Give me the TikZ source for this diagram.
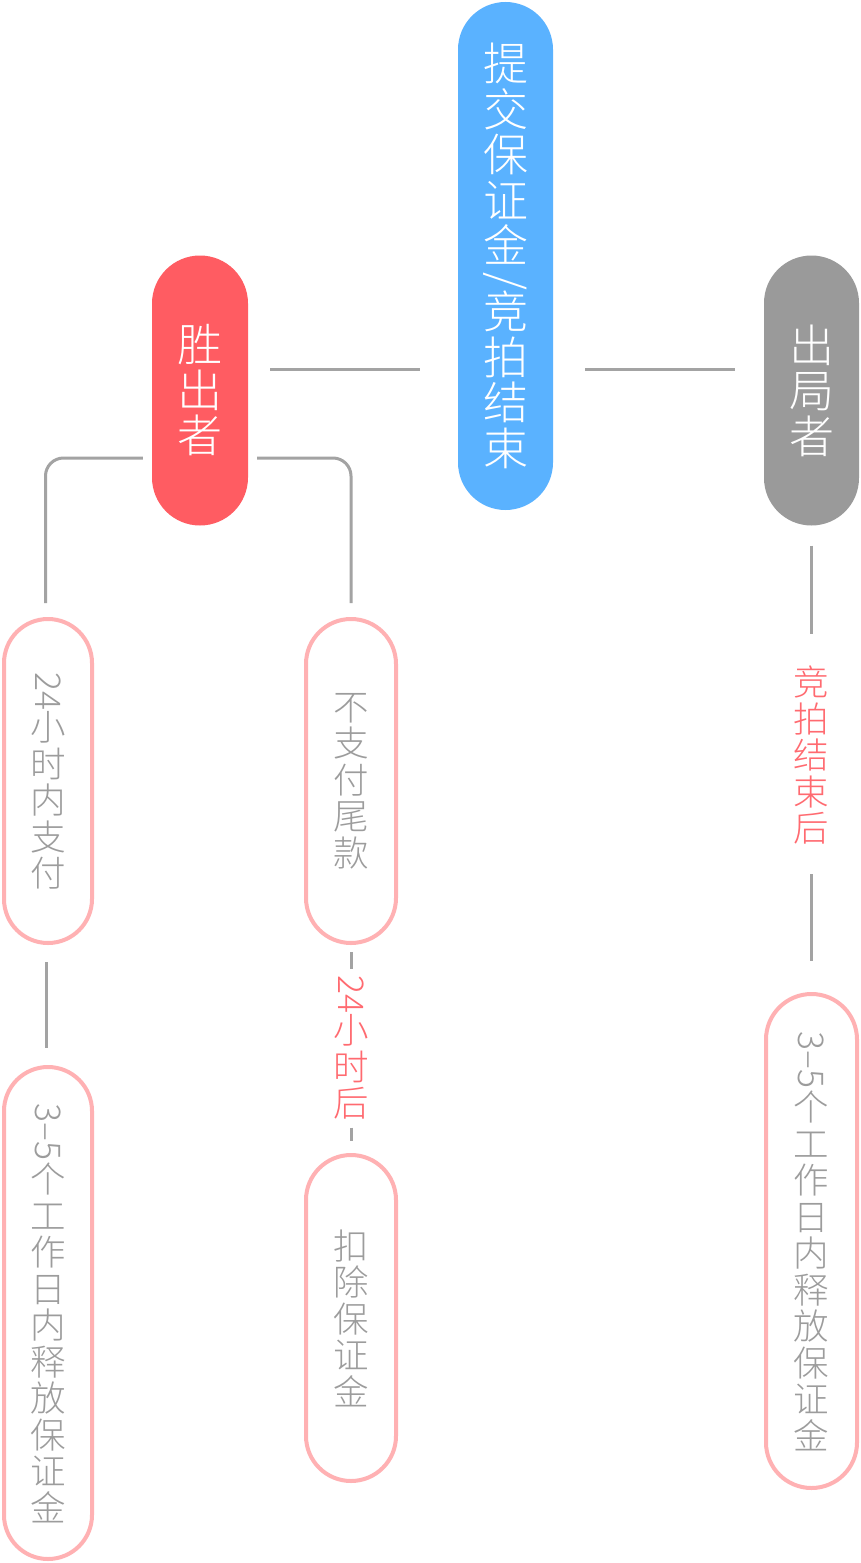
\documentclass[tikz,border=0pt]{standalone}
\usepackage{fontspec}
\usepackage{graphicx}
\usetikzlibrary{calc}
\IfFontExistsTF{Noto Sans CJK SC Light}{\newfontfamily\cjk{Noto Sans CJK SC Light}}{\IfFontExistsTF{Noto Sans CJK SC DemiLight}{\newfontfamily\cjk{Noto Sans CJK SC DemiLight}}{\newfontfamily\cjk{Noto Sans CJK SC}}}
\newcommand\rv[1]{\rotatebox[origin=c]{-90}{#1}}
\newcommand\setlskip{\lineskip=3pt\lineskiplimit=0pt\relax}
\definecolor{pblue}{HTML}{5AB2FF}
\definecolor{pred}{HTML}{FF5C62}
\definecolor{pgray}{HTML}{9A9A9A}
\definecolor{lgray}{HTML}{A3A3A3}
\definecolor{pstroke}{HTML}{FFB1B3}
\definecolor{tgray}{HTML}{9C9C9C}
\definecolor{rtext}{HTML}{FF6A70}
\tikzset{
  bigtxt/.style={font={\cjk\fontsize{45}{45.5}\selectfont\setlskip}, text=white, align=center, inner sep=0pt},
  smalltxt/.style={font={\cjk\fontsize{35.5}{36.5}\selectfont\setlskip}, align=center, inner sep=0pt},
  solidpill/.style={bigtxt, rectangle, draw=none},
  outpill/.style={smalltxt, rectangle, text=tgray, draw=pstroke, line width=4pt, fill=white},
  redlab/.style={smalltxt, text=rtext},
  conn/.style={draw=lgray, line width=3pt},
}
\begin{document}
\begin{tikzpicture}[x=1pt,y=-1pt]
\useasboundingbox (0,0) rectangle (860,1563);
\fill[white] (0,0) rectangle (860,1563);

\node[solidpill, fill=pblue, minimum width=95pt, minimum height=508pt, rounded corners=47.5pt] (top) at (505.5,256)
  {提\\交\\保\\证\\金\\[-13.5pt]\rv{/}\\[-11.5pt]竞\\拍\\结\\束};
\node[solidpill, fill=pred, minimum width=96pt, minimum height=270pt, rounded corners=48pt] (win) at (200,390.5)
  {胜\\出\\者};
\node[solidpill, fill=pgray, minimum width=95pt, minimum height=270pt, rounded corners=47.5pt] (out) at (811.5,390.5)
  {出\\局\\者};

\node[outpill, minimum width=88pt, minimum height=324pt, rounded corners=44pt] (A) at (48,781)
  {\rv{24}\\小\\时\\内\\支\\付};
\node[outpill, minimum width=90pt, minimum height=324pt, rounded corners=45pt] (B) at (351,781)
  {不\\支\\付\\尾\\款};
\node[outpill, minimum width=88pt, minimum height=492pt, rounded corners=44pt] (C) at (48,1313)
  {\rv{3–5}\\个\\工\\作\\日\\内\\释\\放\\保\\证\\金};
\node[outpill, minimum width=90pt, minimum height=326pt, rounded corners=45pt] (D) at (351,1318)
  {扣\\除\\保\\证\\金};
\node[outpill, minimum width=91pt, minimum height=494pt, rounded corners=45.5pt] (E) at (811.5,1241)
  {\rv{3–5}\\个\\工\\作\\日\\内\\释\\放\\保\\证\\金};

\node[redlab] (l24) at (351,1047.5) {\rv{24}\\小\\时\\后};
\node[redlab] (lend) at (811.5,755) {竞\\拍\\结\\束\\后};

\draw[conn] ($(win.east)+(22,-21.5)$) -- ($(top.west |- win.east)+(-38,-21.5)$);
\draw[conn] ($(top.east |- out.west)+(32,-21.5)$) -- ($(out.west)+(-29,-21.5)$);
\draw[conn, rounded corners=18pt] ($(win.west)+(-9,67.5)$) -| ($(A.north)+(-2.5,-14)$);
\draw[conn, rounded corners=18pt] ($(win.east)+(9,67.5)$) -| ($(B.north)+(0,-14)$);
\draw[conn, shorten <=17pt, shorten >=17pt] ($(A.south)+(-1.5,0)$) -- ($(C.north)+(-1.5,0)$);
\draw[conn, shorten <=7pt, shorten >=6pt] (B.south) -- (l24.north);
\draw[conn, shorten <=8pt, shorten >=12pt] (l24.south) -- (D.north);
\draw[conn, shorten <=20pt, shorten >=32pt] (out.south) -- (lend.north);
\draw[conn, shorten <=30pt, shorten >=31pt] (lend.south) -- (E.north);
\end{tikzpicture}
\end{document}
